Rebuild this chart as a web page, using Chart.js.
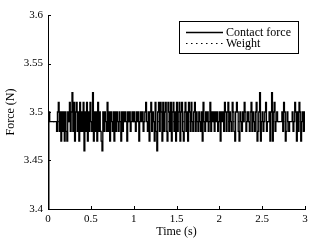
<!DOCTYPE html>
<html>
<head>
<meta charset="utf-8">
<script src="https://cdn.jsdelivr.net/npm/chart.js@4"></script>
<style>
  body { margin: 0; background: #fff; }
  #wrap { width: 316px; height: 245px; }
</style>
</head>
<body>
<div id="wrap"><canvas id="force" width="316" height="245"></canvas></div>
<script>
// contact force samples, one every 0.01 s from t = 0 to t = 3
const force = [
  3.40, 3.50, 3.49, 3.49, 3.49, 3.49, 3.49, 3.49, 3.49, 3.49,
  3.48, 3.50, 3.51, 3.48, 3.50, 3.47, 3.50, 3.48, 3.50, 3.47,
  3.50, 3.48, 3.47, 3.50, 3.49, 3.51, 3.48, 3.50, 3.52, 3.48,
  3.51, 3.47, 3.50, 3.51, 3.48, 3.50, 3.47, 3.51, 3.48, 3.50,
  3.48, 3.51, 3.46, 3.50, 3.48, 3.51, 3.47, 3.50, 3.48, 3.51,
  3.49, 3.48, 3.52, 3.47, 3.50, 3.48, 3.50, 3.47, 3.51, 3.48,
  3.50, 3.48, 3.47, 3.46, 3.50, 3.48, 3.50, 3.49, 3.48, 3.51,
  3.48, 3.50, 3.47, 3.50, 3.49, 3.48, 3.50, 3.47, 3.50, 3.48,
  3.50, 3.49, 3.48, 3.50, 3.49, 3.47, 3.50, 3.48, 3.50, 3.49,
  3.50, 3.49, 3.47, 3.50, 3.49, 3.50, 3.48, 3.49, 3.50, 3.49,
  3.50, 3.49, 3.48, 3.50, 3.49, 3.50, 3.47, 3.49, 3.50, 3.49,
  3.50, 3.48, 3.49, 3.50, 3.51, 3.49, 3.48, 3.50, 3.47, 3.50,
  3.51, 3.48, 3.50, 3.49, 3.47, 3.51, 3.48, 3.46, 3.50, 3.51,
  3.48, 3.51, 3.50, 3.47, 3.51, 3.48, 3.50, 3.51, 3.48, 3.47,
  3.51, 3.50, 3.48, 3.51, 3.47, 3.50, 3.51, 3.48, 3.50, 3.47,
  3.51, 3.48, 3.50, 3.51, 3.47, 3.50, 3.51, 3.48, 3.47, 3.50,
  3.51, 3.48, 3.50, 3.47, 3.51, 3.50, 3.48, 3.51, 3.49, 3.48,
  3.50, 3.51, 3.48, 3.50, 3.49, 3.48, 3.50, 3.49, 3.48, 3.50,
  3.47, 3.51, 3.49, 3.48, 3.50, 3.49, 3.50, 3.48, 3.49, 3.51,
  3.48, 3.50, 3.49, 3.50, 3.48, 3.50, 3.49, 3.50, 3.48, 3.49,
  3.50, 3.47, 3.50, 3.49, 3.50, 3.48, 3.51, 3.50, 3.48, 3.50,
  3.51, 3.48, 3.50, 3.49, 3.48, 3.51, 3.50, 3.48, 3.47, 3.50,
  3.51, 3.50, 3.48, 3.47, 3.50, 3.49, 3.48, 3.50, 3.49, 3.51,
  3.50, 3.48, 3.49, 3.50, 3.49, 3.48, 3.50, 3.51, 3.48, 3.50,
  3.49, 3.48, 3.50, 3.51, 3.47, 3.48, 3.50, 3.52, 3.47, 3.49,
  3.50, 3.48, 3.49, 3.50, 3.51, 3.48, 3.49, 3.49, 3.50, 3.47,
  3.50, 3.52, 3.47, 3.50, 3.51, 3.48, 3.49, 3.50, 3.49, 3.49,
  3.49, 3.49, 3.49, 3.50, 3.48, 3.51, 3.50, 3.47, 3.48, 3.50,
  3.49, 3.48, 3.49, 3.49, 3.49, 3.50, 3.48, 3.49, 3.51, 3.50,
  3.47, 3.50, 3.48, 3.51, 3.50, 3.47, 3.49, 3.50, 3.48, 3.50,
  3.48
];
const dt = 0.01;

const weightTimes = [0, 3];
const weightLevel = [3.49, 3.49];

const xTicks = [0, 0.5, 1, 1.5, 2, 2.5, 3];
const xLabels = ['0', '0.5', '1', '1.5', '2', '2.5', '3'];
const yTicks = [3.4, 3.45, 3.5, 3.55, 3.6];
const yLabels = ['3.4', '3.45', '3.5', '3.55', '3.6'];

Chart.defaults.font.family = '"Liberation Serif", "Times New Roman", serif';
Chart.defaults.font.size = 11;
Chart.defaults.color = '#000';

// matlab style ticks pointing into the plot
const inwardTicks = {
  id: 'inwardTicks',
  afterDraw(chart) {
    const ctx = chart.ctx;
    const area = chart.chartArea;
    const x = chart.scales.x;
    const y = chart.scales.y;
    ctx.save();
    ctx.strokeStyle = '#000';
    ctx.lineWidth = 1;
    ctx.beginPath();
    xTicks.forEach(v => {
      const px = Math.round(x.getPixelForValue(v)) + 0.5;
      ctx.moveTo(px, area.bottom);
      ctx.lineTo(px, area.bottom - 3);
    });
    yTicks.forEach(v => {
      const py = Math.round(y.getPixelForValue(v)) + 0.5;
      ctx.moveTo(area.left, py);
      ctx.lineTo(area.left + 3, py);
    });
    ctx.stroke();
    ctx.restore();
  }
};

// boxed legend in the top right corner
const boxLegend = {
  id: 'boxLegend',
  afterDraw(chart) {
    const ctx = chart.ctx;
    const left = 179.5, top = 21.5, w = 119, h = 32;
    ctx.save();
    ctx.fillStyle = '#fff';
    ctx.fillRect(left, top, w, h);
    ctx.strokeStyle = '#000';
    ctx.lineWidth = 1;
    ctx.strokeRect(left, top, w, h);
    ctx.font = '12px "Liberation Serif", serif';
    ctx.textBaseline = 'middle';
    ctx.fillStyle = '#000';
    chart.data.datasets.forEach((ds, i) => {
      const ly = Math.round(top + 10 + i * 11.5) + 0.5;
      ctx.beginPath();
      ctx.setLineDash(ds.borderDash || []);
      ctx.lineWidth = i === 0 ? 1.3 : 1;
      ctx.moveTo(186, ly);
      ctx.lineTo(223, ly);
      ctx.stroke();
      ctx.setLineDash([]);
      ctx.fillText(ds.label, 226, ly);
    });
    ctx.restore();
  }
};

const canvas = document.getElementById('force');

new Chart(canvas, {
  type: 'line',
  data: {
    datasets: [{
      label: 'Contact force',
      data: force.map((v, i) => ({ x: i * dt, y: v })),
      borderColor: '#000',
      borderWidth: 1.3,
      stepped: true,
      pointRadius: 0
    }, {
      label: 'Weight',
      data: weightTimes.map((t, i) => ({ x: t, y: weightLevel[i] })),
      borderColor: '#000',
      borderWidth: 1,
      borderDash: [1.5, 3.5],
      pointRadius: 0,
      tension: 0
    }]
  },
  options: {
    responsive: false,
    animation: false,
    devicePixelRatio: 1,
    layout: {
      padding: { top: 15, right: 11, left: 0, bottom: 0 }
    },
    plugins: {
      legend: { display: false },
      tooltip: { enabled: false }
    },
    scales: {
      x: {
        type: 'linear',
        min: 0,
        max: 3,
        afterBuildTicks: s => { s.ticks = xTicks.map(v => ({ value: v })); },
        afterFit: s => { s.height = 36; },
        ticks: {
          padding: 4,
          maxRotation: 0,
          callback: (v) => xLabels[xTicks.indexOf(v)]
        },
        grid: { display: false, drawTicks: false },
        border: { display: true, color: '#000', width: 1 },
        title: {
          display: true,
          text: 'Time (s)',
          font: { size: 12 },
          padding: { top: 0, bottom: 6 }
        }
      },
      y: {
        min: 3.4,
        max: 3.6,
        afterBuildTicks: s => { s.ticks = yTicks.map(v => ({ value: v })); },
        afterFit: s => { s.width = 48; },
        ticks: {
          padding: 5,
          callback: (v) => yLabels[yTicks.indexOf(v)]
        },
        grid: { display: false, drawTicks: false },
        border: { display: true, color: '#000', width: 1 },
        title: {
          display: true,
          text: 'Force (N)',
          font: { size: 12 },
          padding: { top: 4, bottom: 0 }
        }
      }
    }
  },
  plugins: [inwardTicks, boxLegend]
});
</script>
</body>
</html>
